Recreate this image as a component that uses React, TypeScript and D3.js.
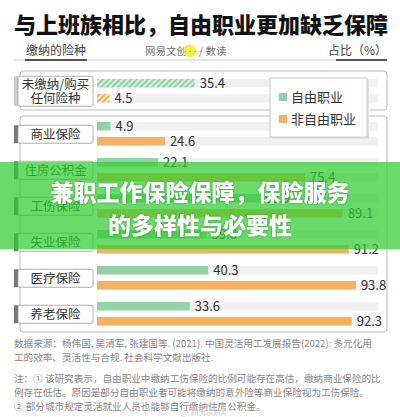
import { useEffect } from 'react';
import * as d3 from 'd3';

// data
const categories = ['未缴纳/购买|任何险种', '商业保险', '住房公积金', '工伤保险', '失业保险', '医疗保险', '养老保险'];
const freelance = [35.4, 4.9, 22.1, 58.9, 39.8, 40.3, 33.6];
const nonFreelance = [4.5, 24.6, 75.4, 89.1, 91.2, 93.8, 92.3];
const seriesNames = ['自由职业', '非自由职业'];
const sourceLines = [
  '数据来源：杨伟国, 吴清军, 张建国等. (2021). 中国灵活用工发展报告(2022): 多元化用',
  '工的效率、灵活性与合规. 社会科学文献出版社.',
];
const noteLines = [
  '注：① 该研究表示，自由职业中缴纳工伤保险的比例可能存在高估，缴纳商业保险的比',
  '例存在低估。原因是部分自由职业者可能将缴纳的意外险等商业保险视为工伤保险。',
  '② 部分城市规定灵活就业人员也能够自行缴纳住房公积金。',
];

const GREEN = '#93d2a5';
const ORANGE = '#f4b163';
const FONT = '"Noto Sans CJK SC", "Noto Sans", sans-serif';

export default function App() {
  useEffect(() => {
    document.body.style.margin = '0';
  }, []);

  const width = 400;
  const height = 417;
  const barH = 8.5;
  const gap = 15;

  const x = d3.scaleLinear().domain([0, 100]).range([97, 373]);
  // rows 1..6 sit in the big box, row 0 in its own box above
  const yRow = d3.scaleLinear().domain([1, 6]).range([122, 302]);
  const rowTop = (i: number) => (i === 0 ? yRow(1) - 43 : yRow(i));
  const colors = d3.scaleOrdinal<string, string>().domain(seriesNames).range([GREEN, ORANGE]);

  return (
    <svg width={width} height={height} style={{ position: 'absolute', left: 0, top: 0, background: '#fff' }} fontFamily={FONT}>
      <defs>
        <pattern id="hatchG" width="4" height="4" patternUnits="userSpaceOnUse" patternTransform="rotate(45)">
          <rect width="4" height="4" fill="#d8efdf" />
          <rect width="2" height="4" fill={GREEN} />
        </pattern>
        <pattern id="hatchO" width="4" height="4" patternUnits="userSpaceOnUse" patternTransform="rotate(45)">
          <rect width="4" height="4" fill="#fbe3c6" />
          <rect width="2" height="4" fill={ORANGE} />
        </pattern>
      </defs>

      {/* title */}
      <text x={14} y={33} fontSize={22} fontWeight={900} fill="#111">与上班族相比，自由职业更加缺乏保障</text>

      {/* header */}
      <line x1={14} x2={387} y1={60} y2={60} stroke="#ccc" />
      <text x={26} y={55} fontSize={12} fill="#444">缴纳的险种</text>
      <line x1={25} x2={87} y1={60} y2={60} stroke="#222" strokeWidth={1.5} />
      <text x={145} y={55} fontSize={10.5} fill="#777">网易文创</text>
      <circle cx={190} cy={51} r={6.5} fill="#f7ea3a" opacity={0.9} />
      <text x={190} y={53} fontSize={5} fill="#999" textAnchor="middle">·····</text>
      <text x={199} y={55} fontSize={10.5} fill="#777">/ 数读</text>
      <text x={387} y={55} fontSize={12} fill="#444" textAnchor="end">占比（%）</text>
      <line x1={336} x2={387} y1={60} y2={60} stroke="#222" strokeWidth={1.5} />

      {/* group boxes */}
      <rect x={20} y={71} width={367} height={39} rx={3} fill="none" stroke="#bbb" />
      <rect x={20} y={116} width={367} height={216} rx={3} fill="none" stroke="#bbb" />

      {categories.map((c, i) => {
        const top = rowTop(i);
        const lines = c.split('|');
        const boxH = lines.length > 1 ? 30 : 18;
        const cy = top + (barH + gap) / 2 + 0.5;
        return (
          <g key={c}>
            {/* tracks */}
            <rect x={x(0)} y={top} width={378 - x(0)} height={barH} fill="#f1f1f1" />
            <rect x={x(0)} y={top + gap} width={378 - x(0)} height={barH} fill="#f1f1f1" />
            {/* bars */}
            <rect x={x(0)} y={top} width={x(freelance[i]) - x(0)} height={barH}
              fill={i === 0 ? 'url(#hatchG)' : colors(seriesNames[0])} />
            <rect x={x(0)} y={top + gap} width={x(nonFreelance[i]) - x(0)} height={barH}
              fill={i === 0 ? 'url(#hatchO)' : colors(seriesNames[1])} />
            <text x={x(freelance[i]) + 5} y={top + barH / 2 + 5} fontSize={13} fill="#333">{freelance[i].toFixed(1)}</text>
            <text x={x(nonFreelance[i]) + 5} y={top + gap + barH / 2 + 5} fontSize={13} fill="#333">{nonFreelance[i].toFixed(1)}</text>
            {/* category label */}
            <rect x={14} y={cy - boxH / 2} width={4} height={boxH} fill={i === 0 ? '#ccc' : '#777'} />
            <rect x={18} y={cy - boxH / 2} width={75} height={boxH} rx={2} fill="#fff" stroke="#999" strokeWidth={0.8} />
            {lines.map((l, k) => (
              <text key={l} x={55.5} y={cy + 4.5 + (k - (lines.length - 1) / 2) * 14} fontSize={12.5} fill="#333" textAnchor="middle">{l}</text>
            ))}
          </g>
        );
      })}

      {/* legend */}
      <rect x={272} y={80} width={97} height={59} fill="#e4e4e4" />
      <rect x={270} y={78} width={97} height={59} fill="#fff" stroke="#bbb" strokeWidth={0.8} />
      {seriesNames.map((s, i) => (
        <g key={s}>
          <rect x={279} y={93 + i * 22} width={8} height={8} fill={colors(s)} />
          <text x={291} y={102 + i * 22} fontSize={13} fill="#333">{s}</text>
        </g>
      ))}

      {/* footer */}
      {sourceLines.map((l, i) => (
        <text key={l} x={14} y={347 + i * 14} fontSize={9.6} fill="#888">{l}</text>
      ))}
      {noteLines.map((l, i) => (
        <text key={l} x={14} y={382 + i * 14} fontSize={9.6} fill="#888">{l}</text>
      ))}
      <text x={203} y={415} fontSize={9} fill="#d4d4d4" textAnchor="middle">@ 新知数读</text>

      {/* green overlay banner */}
      <rect x={0} y={162} width={400} height={87} fill="rgb(48,205,48)" opacity={0.72} />
      <g fill="#fff" fontWeight={900} fontSize={23} textAnchor="middle" style={{ filter: 'drop-shadow(0 0 1px rgba(0,80,0,0.4))' }}>
        <text x={200} y={201}>兼职工作保险保障，保险服务</text>
        <text x={200} y={234}>的多样性与必要性</text>
      </g>
    </svg>
  );
}
